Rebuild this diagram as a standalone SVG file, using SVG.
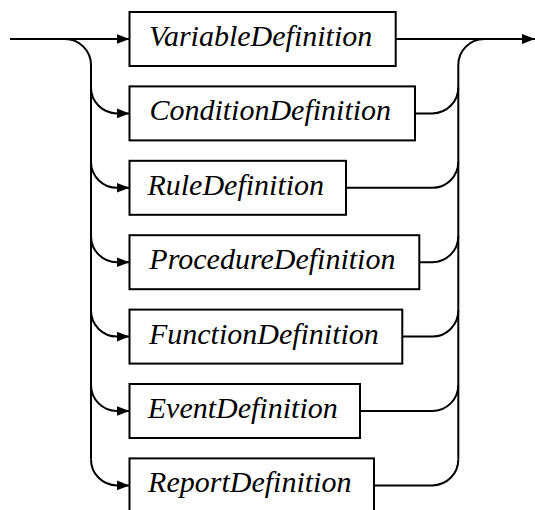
<svg xmlns="http://www.w3.org/2000/svg" width="535" height="510" viewBox="0 0 535 510">
<style>
.box{fill:#fff;stroke:#000;stroke-width:2}
.lbl{font-family:'Liberation Serif','Times New Roman',serif;font-style:italic;font-size:30px;fill:#000;text-anchor:middle}
.ln{fill:none;stroke:#000;stroke-width:2}
</style>
<defs>
<marker id="ah" viewBox="0 0 13 10" refX="13" refY="5" markerWidth="13" markerHeight="10" markerUnits="userSpaceOnUse" orient="auto">
<path d="M0,0 L13,5 L0,10 Z" fill="#000"/>
</marker>
</defs>
<rect width="535" height="510" fill="#fff"/>
<g id="connectors">
<path class="ln" d="M10,39 H129.5" marker-end="url(#ah)"/>
<path class="ln" d="M65,39 A26,26 0 0 1 91,65 V459.4"/>
<path class="ln" d="M91,87.4 A26,26 0 0 0 117,113.4 H129.5" marker-end="url(#ah)"/>
<path class="ln" d="M91,161.8 A26,26 0 0 0 117,187.8 H129.5" marker-end="url(#ah)"/>
<path class="ln" d="M91,236.2 A26,26 0 0 0 117,262.2 H129.5" marker-end="url(#ah)"/>
<path class="ln" d="M91,310.6 A26,26 0 0 0 117,336.6 H129.5" marker-end="url(#ah)"/>
<path class="ln" d="M91,385 A26,26 0 0 0 117,411 H129.5" marker-end="url(#ah)"/>
<path class="ln" d="M91,459.4 A26,26 0 0 0 117,485.4 H129.5" marker-end="url(#ah)"/>
<path class="ln" d="M395.7,39 H535" marker-end="url(#ah)"/>
<path class="ln" d="M458.3,459.4 V65 A26,26 0 0 1 484.3,39"/>
<path class="ln" d="M415,113.4 H432.3 A26,26 0 0 0 458.3,87.4"/>
<path class="ln" d="M346,187.8 H432.3 A26,26 0 0 0 458.3,161.8"/>
<path class="ln" d="M419.3,262.2 H432.3 A26,26 0 0 0 458.3,236.2"/>
<path class="ln" d="M402.3,336.6 H432.3 A26,26 0 0 0 458.3,310.6"/>
<path class="ln" d="M360,411 H432.3 A26,26 0 0 0 458.3,385"/>
<path class="ln" d="M374,485.4 H432.3 A26,26 0 0 0 458.3,459.4"/>
</g>
<g id="n1"><rect class="box" x="129.5" y="12" width="266.2" height="54"/><text class="lbl" x="260.6" y="46">VariableDefinition</text></g>
<g id="n2"><rect class="box" x="129.5" y="86.4" width="285.5" height="54"/><text class="lbl" x="270.25" y="120.4">ConditionDefinition</text></g>
<g id="n3"><rect class="box" x="129.5" y="160.8" width="216.5" height="54"/><text class="lbl" x="235.75" y="194.8">RuleDefinition</text></g>
<g id="n4"><rect class="box" x="129.5" y="235.2" width="289.8" height="54"/><text class="lbl" x="272.4" y="269.2">ProcedureDefinition</text></g>
<g id="n5"><rect class="box" x="129.5" y="309.6" width="272.8" height="54"/><text class="lbl" x="263.9" y="343.6">FunctionDefinition</text></g>
<g id="n6"><rect class="box" x="129.5" y="384" width="230.5" height="54"/><text class="lbl" x="242.75" y="418">EventDefinition</text></g>
<g id="n7"><rect class="box" x="129.5" y="458.4" width="244.5" height="54"/><text class="lbl" x="249.75" y="492.4">ReportDefinition</text></g>
</svg>
